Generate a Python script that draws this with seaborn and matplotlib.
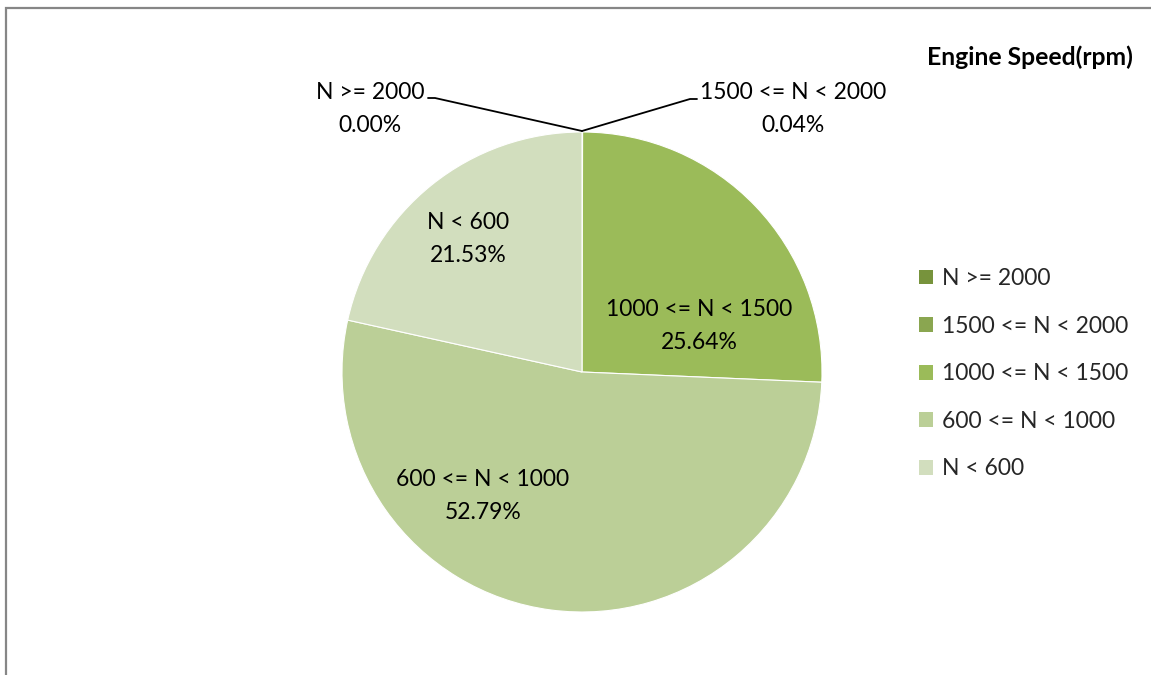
import matplotlib
matplotlib.use("Agg")
import matplotlib.pyplot as plt
from matplotlib.patches import Patch, Rectangle
from matplotlib.lines import Line2D
import seaborn as sns

categories = ["N >= 2000", "1500 <= N < 2000", "1000 <= N < 1500", "600 <= N < 1000", "N < 600"]
shares = [0.00, 0.04, 25.64, 52.79, 21.53]
colors = ["#77933C", "#8AA650", "#9BBB59", "#BBCF97", "#D2DEBE"]
title = "Engine Speed(rpm)"

sns.set_theme(style="white")
plt.rcParams["font.family"] = ["Lato", "DejaVu Sans"]

W, H = 1151, 675
fig = plt.figure(figsize=(W / 100, H / 100), dpi=100)

cx, cy, r = 582, 372, 240
ax = fig.add_axes([(cx - r) / W, (H - cy - r) / H, 2 * r / W, 2 * r / H])

wedges, _ = ax.pie(shares, colors=colors, startangle=90, counterclock=False,
                   radius=1, center=(0, 0),
                   wedgeprops=dict(linewidth=0.8, edgecolor="white"))
ax.set_xlim(-1, 1)
ax.set_ylim(-1, 1)
ax.set_aspect("equal")
ax.axis("off")

def d(px, py):
    return ((px - cx) / r, (cy - py) / r)

fs = 16.5
lab = dict(fontsize=fs, color="black", ha="center", va="center", linespacing=1.75)
# inside labels
ax.text(*d(468, 239), f"{categories[4]}\n{shares[4]:.2f}%", **lab)
ax.text(*d(699, 326), f"{categories[2]}\n{shares[2]:.2f}%", **lab)
ax.text(*d(483, 496), f"{categories[3]}\n{shares[3]:.2f}%", **lab)
# outside labels
ax.text(*d(370, 109), f"{categories[0]}\n{shares[0]:.2f}%", clip_on=False, **lab)
ax.text(*d(793, 109), f"{categories[1]}\n{shares[1]:.2f}%", clip_on=False, **lab)
lx, ly = zip(d(428, 98), d(435, 98), d(582, 131))
ax.add_line(Line2D(lx, ly, color="black", lw=1.3, clip_on=False))
lx, ly = zip(d(582, 131), d(690, 99), d(697, 99))
ax.add_line(Line2D(lx, ly, color="black", lw=1.3, clip_on=False))

# legend
handles = [Patch(facecolor=c, edgecolor="none") for c in colors]
fig.legend(handles, categories, loc="upper left",
           bbox_to_anchor=(919 / W, 1 - 268 / H), frameon=False,
           fontsize=fs, handlelength=0.62, handleheight=0.62,
           handletextpad=0.4, labelspacing=1.16, borderpad=0, borderaxespad=0)

fig.text(1133 / W, 1 - 57 / H, title, ha="right", va="center",
         fontsize=17.8, fontweight="bold", color="black")

# chart-area border (top and left visible)
fig.add_artist(Rectangle((6 / W, -0.1), 1.2, 1 - 8 / H + 0.1, transform=fig.transFigure,
                         fill=False, edgecolor="#868686", linewidth=1.6))

fig.savefig("out.png", dpi=100)
